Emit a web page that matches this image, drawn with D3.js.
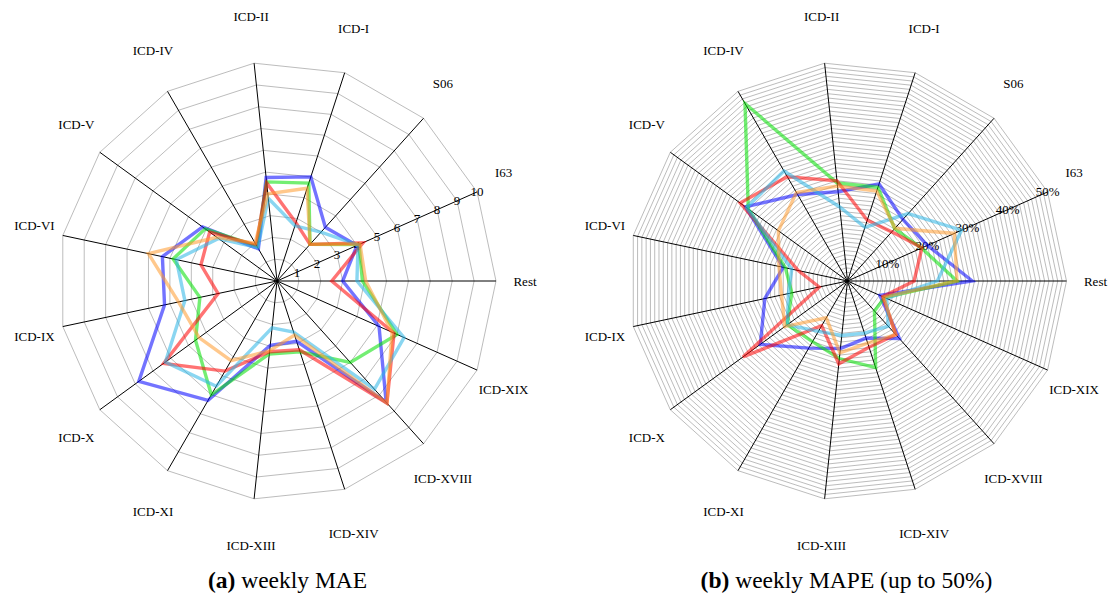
<!DOCTYPE html>
<html>
<head>
<meta charset="utf-8">
<script src="https://cdn.jsdelivr.net/npm/d3@7"></script>
<style>
  html, body { margin: 0; padding: 0; background: #fff; }
  svg { display: block; font-family: "Liberation Serif", "Times New Roman", serif; }
</style>
</head>
<body>
<svg id="chart" width="1115" height="603"></svg>
<script>
// Axis categories, counter-clockwise starting at 3 o'clock
const categories = ["Rest", "I63", "S06", "ICD-I", "ICD-II", "ICD-IV", "ICD-V", "ICD-VI",
                    "ICD-IX", "ICD-X", "ICD-XI", "ICD-XIII", "ICD-XIV", "ICD-XVIII", "ICD-XIX"];

// Weekly MAE per model
const maeBlue   = [3.0, 4.0, 3.3, 5.0, 4.75, 1.7, 4.2, 5.35, 5.25, 7.8, 6.3, 2.95, 2.9, 7.45, 5.1];
const maeGreen  = [3.9, 4.1, 2.25, 4.7, 4.55, 1.85, 4.05, 4.85, 3.6, 4.6, 6.0, 3.35, 3.4, 5.0, 6.0];
const maeRed    = [2.5, 4.3, 2.25, 2.8, 4.5, 1.9, 3.8, 3.55, 2.75, 6.4, 4.75, 3.25, 3.3, 7.5, 5.85];
const maeCyan   = [3.65, 4.05, 3.0, 2.65, 3.8, 1.75, 3.3, 4.7, 4.3, 6.3, 5.55, 2.15, 2.45, 6.65, 6.35];
const maeOrange = [4.05, 4.15, 2.25, 4.45, 4.0, 2.0, 3.4, 6.0, 4.6, 4.4, 4.2, 3.2, 2.6, 7.5, 5.75];

// Weekly MAPE per model (percent)
const mapeBlue   = [28.5, 20.0, 18.9, 23.3, 20.5, 22.8, 28.8, 15.0, 19.3, 24.6, 17.7, 15.5, 13.7, 17.7, 8.1];
const mapeGreen  = [25.0, 18.5, 16.1, 22.5, 22.5, 46.8, 28.0, 14.5, 13.0, 17.0, 16.0, 17.8, 20.8, 9.2, 9.3];
const mapeRed    = [15.2, 18.6, 15.1, 14.6, 23.0, 27.5, 30.3, 11.5, 6.6, 29.5, 11.8, 19.0, 15.9, 16.5, 8.8];
const mapeCyan   = [20.5, 28.5, 20.7, 12.9, 17.0, 29.0, 28.5, 13.0, 13.8, 17.0, 13.3, 12.5, 12.5, 13.9, 9.8];
const mapeOrange = [25.0, 26.7, 16.2, 21.6, 21.8, 23.3, 19.5, 16.0, 15.4, 17.7, 9.7, 16.5, 14.9, 16.5, 9.0];

// Radial tick labels
const maeTicks  = [1, 2, 3, 4, 5, 6, 7, 8, 9, 10];
const mapeTicks = [10, 20, 30, 40, 50];

const seriesColors = ["#0000ff", "#00e000", "#ff0000", "#2ab4e6", "#ff9a2e"];

const svg = d3.select("#chart");
const R = 219;                 // outer radius of each radar
const labelRx = 248, labelRy = 266;   // category labels sit on an ellipse around the grid
const step = 2 * Math.PI / categories.length;
// angle measured from 12 o'clock clockwise for d3.lineRadial
const radialAngle = i => Math.PI / 2 - i * step;

function radar(opts) {
  const g = svg.append("g").attr("transform", `translate(${opts.cx},${opts.cy})`);
  const r = d3.scaleLinear().domain([0, opts.max]).range([0, R]);
  const ring = d3.lineRadial().curve(d3.curveLinearClosed);

  // grid rings
  g.append("g").selectAll("path")
    .data(opts.rings)
    .join("path")
    .attr("d", v => ring(categories.map((c, i) => [radialAngle(i), r(v)])))
    .attr("fill", "none")
    .attr("stroke", "#b4b4b4")
    .attr("stroke-width", 0.9);

  // spokes
  g.append("g").selectAll("line")
    .data(categories)
    .join("line")
    .attr("x1", 0).attr("y1", 0)
    .attr("x2", (c, i) => r(opts.max) * Math.sin(radialAngle(i)))
    .attr("y2", (c, i) => -r(opts.max) * Math.cos(radialAngle(i)))
    .attr("stroke", "#000")
    .attr("stroke-width", 1);

  // category labels
  g.append("g").selectAll("text")
    .data(categories)
    .join("text")
    .attr("x", (c, i) => labelRx * Math.sin(radialAngle(i)))
    .attr("y", (c, i) => -labelRy * Math.cos(radialAngle(i)))
    .attr("text-anchor", "middle")
    .attr("dominant-baseline", "central")
    .attr("font-size", 13)
    .text(c => c);

  // radial tick labels along the second spoke
  const ta = radialAngle(1);
  g.append("g").selectAll("text")
    .data(opts.ticks)
    .join("text")
    .attr("x", v => r(v) * Math.sin(ta))
    .attr("y", v => -r(v) * Math.cos(ta))
    .attr("text-anchor", "middle")
    .attr("dominant-baseline", "central")
    .attr("font-size", 13)
    .text(opts.tickFormat);

  // model polygons
  const line = d3.lineRadial()
    .angle((v, i) => radialAngle(i))
    .radius(v => r(v))
    .curve(d3.curveLinearClosed);
  g.append("g").selectAll("path")
    .data(opts.series)
    .join("path")
    .attr("d", s => line(s))
    .attr("fill", "none")
    .attr("stroke", (s, i) => seriesColors[i])
    .attr("stroke-opacity", 0.55)
    .attr("stroke-width", 3.4)
    .attr("stroke-linejoin", "miter");

  // caption
  const cap = svg.append("text")
    .attr("x", opts.capX)
    .attr("y", 588)
    .attr("text-anchor", "middle")
    .attr("font-size", 23.5);
  cap.append("tspan").attr("font-weight", "bold").text(opts.capTag);
  cap.append("tspan").text(" " + opts.capText);
}

radar({
  cx: 277, cy: 281, max: 10,
  rings: d3.range(1, 11),
  ticks: maeTicks,
  tickFormat: v => String(v),
  series: [maeBlue, maeGreen, maeRed, maeCyan, maeOrange],
  capTag: "(a)", capText: "weekly MAE", capX: 287.5
});

radar({
  cx: 847.5, cy: 281, max: 50,
  rings: d3.range(1, 51),
  ticks: mapeTicks,
  tickFormat: v => v + "%",
  series: [mapeBlue, mapeGreen, mapeRed, mapeCyan, mapeOrange],
  capTag: "(b)", capText: "weekly MAPE (up to 50%)", capX: 846.5
});
</script>
</body>
</html>
